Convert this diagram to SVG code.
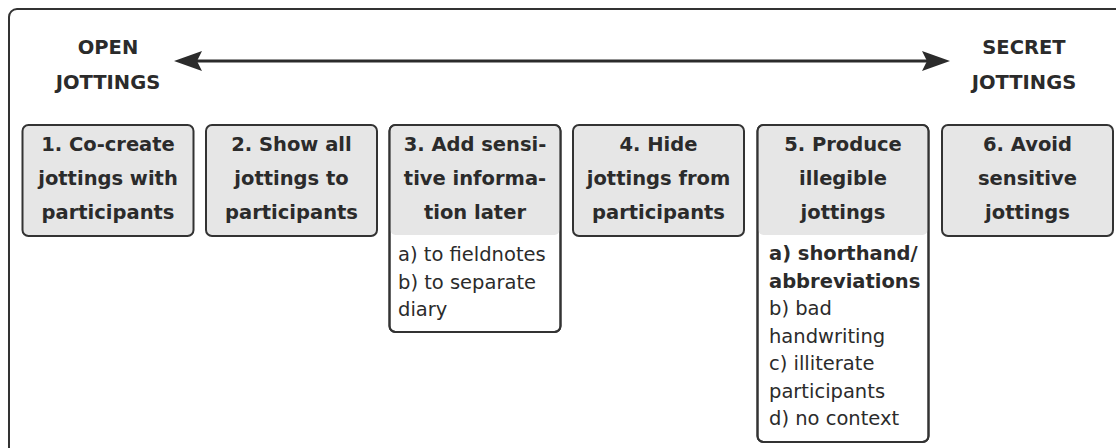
<svg xmlns="http://www.w3.org/2000/svg" width="1116" height="448" viewBox="0 0 1116 448">
<style>
.frame{fill:none;stroke:#333;stroke-width:2}
.box{fill:#e6e6e6;stroke:#333;stroke-width:2}
.boxw{fill:#fff;stroke:#333;stroke-width:2}
.boxo{fill:none;stroke:#333;stroke-width:2}
.hdr{fill:#e6e6e6}
.h{font-family:"DejaVu Sans",sans-serif;font-weight:bold;font-size:19.5px;fill:#2b2b2b;text-anchor:middle}
.t{font-family:"DejaVu Sans",sans-serif;font-size:19.5px;fill:#2b2b2b}
.tb{font-family:"DejaVu Sans",sans-serif;font-size:19.5px;font-weight:bold;fill:#2b2b2b}
</style>
<rect width="1116" height="448" fill="#fff"/>
<rect class="frame" x="9" y="9" width="1130" height="460" rx="8"/>
<g id="labels">
<text class="h" x="108" y="54">OPEN</text>
<text class="h" x="108" y="89">JOTTINGS</text>
<text class="h" x="1024" y="54">SECRET</text>
<text class="h" x="1024" y="89">JOTTINGS</text>
</g>
<g id="connectors">
<line x1="195" y1="61" x2="929" y2="61" stroke="#2b2b2b" stroke-width="3"/>
<path d="M174,61 L202,51 L197,61 L202,71 Z" fill="#2b2b2b"/>
<path d="M950,61 L922,51 L927,61 L922,71 Z" fill="#2b2b2b"/>
</g>
<g id="n1">
<rect class="box" x="22.5" y="125" width="171" height="111" rx="6"/>
<text class="h" x="108" y="151">1. Co-create</text>
<text class="h" x="108" y="185">jottings with</text>
<text class="h" x="108" y="219">participants</text>
</g>
<g id="n2">
<rect class="box" x="206" y="125" width="171" height="111" rx="6"/>
<text class="h" x="291.5" y="151">2. Show all</text>
<text class="h" x="291.5" y="185">jottings to</text>
<text class="h" x="291.5" y="219">participants</text>
</g>
<g id="n3">
<rect class="boxw" x="389.5" y="125" width="171" height="207" rx="6"/>
<rect class="hdr" x="390.5" y="126" width="169" height="109" rx="5"/>
<rect class="boxo" x="389.5" y="125" width="171" height="207" rx="6"/>
<text class="h" x="475" y="151">3. Add sensi-</text>
<text class="h" x="475" y="185">tive informa-</text>
<text class="h" x="475" y="219">tion later</text>
<text class="t" x="398" y="261">a) to fieldnotes</text>
<text class="t" x="398" y="288.5">b) to separate</text>
<text class="t" x="398" y="316">diary</text>
</g>
<g id="n4">
<rect class="box" x="573" y="125" width="171" height="111" rx="6"/>
<text class="h" x="658.5" y="151">4. Hide</text>
<text class="h" x="658.5" y="185">jottings from</text>
<text class="h" x="658.5" y="219">participants</text>
</g>
<g id="n5">
<rect class="boxw" x="757.5" y="125" width="171" height="317" rx="6"/>
<rect class="hdr" x="758.5" y="126" width="169" height="109" rx="5"/>
<rect class="boxo" x="757.5" y="125" width="171" height="317" rx="6"/>
<text class="h" x="843" y="151">5. Produce</text>
<text class="h" x="843" y="185">illegible</text>
<text class="h" x="843" y="219">jottings</text>
<text class="tb" x="769" y="260">a) shorthand/</text>
<text class="tb" x="769" y="287.5">abbreviations</text>
<text class="t" x="769" y="315">b) bad</text>
<text class="t" x="769" y="342.5">handwriting</text>
<text class="t" x="769" y="370">c) illiterate</text>
<text class="t" x="769" y="397.5">participants</text>
<text class="t" x="769" y="425">d) no context</text>
</g>
<g id="n6">
<rect class="box" x="942" y="125" width="171" height="111" rx="6"/>
<text class="h" x="1027.5" y="151">6. Avoid</text>
<text class="h" x="1027.5" y="185">sensitive</text>
<text class="h" x="1027.5" y="219">jottings</text>
</g>
</svg>
